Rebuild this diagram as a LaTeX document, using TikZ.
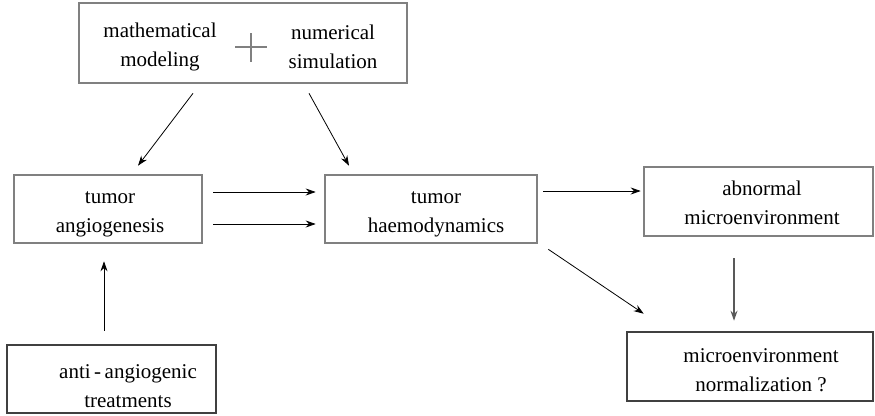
\documentclass[tikz,border=0pt]{standalone}
\usepackage{fontspec}
\setmainfont{Liberation Serif}
\usetikzlibrary{arrows.meta,calc}
\begin{document}
\begin{tikzpicture}[x=1pt,y=1pt,
  lbox/.style={draw=black!50, line width=2.6pt, minimum width=#1, inner sep=0pt},
  dbox/.style={draw=black!75, line width=2.6pt, minimum width=#1, inner sep=0pt},
  txt/.style={align=center, font=\fontsize{21}{29}\selectfont, inner sep=0pt},
  arr/.style={-{Stealth[length=10pt,width=7pt]}, line width=0.8pt, black},
  garr/.style={-{Stealth[length=10pt,width=7pt]}, line width=1.1pt, black!65},
]
\useasboundingbox (0,0) rectangle (875,-415);
% boxes
\node[lbox=328pt, minimum height=80pt] (top) at (243,-43) {};
\node[lbox=188pt, minimum height=68pt] (ang) at (108,-209) {};
\node[lbox=212pt, minimum height=68pt] (haem) at (431,-209) {};
\node[lbox=229pt, minimum height=69pt] (abn) at (758.5,-201.5) {};
\node[dbox=209pt, minimum height=68pt] (anti) at (111.5,-379) {};
\node[dbox=246pt, minimum height=69pt] (norm) at (750,-366.5) {};
% texts
\node[txt] (t1) at (160,-47) {mathematical\\modeling};
\node[txt] (t2) at (333,-47) {numerical\\simulation};
\coordinate (plus) at (251,-47);
\draw[black!50, line width=2pt] ($(plus)+(-16,0)$) -- ($(plus)+(16,0)$)
  ($(plus)+(0,-14.5)$) -- ($(plus)+(0,14.5)$);
\node[txt] (t3) at (110,-214) {tumor\\angiogenesis};
\node[txt] (t4) at (436,-214) {tumor\\haemodynamics};
\node[txt] (t5) at (762,-203) {abnormal\\microenvironment};
\node[txt] (t6) at (128,-386) {anti\,-\,angiogenic\\treatments};
\node[txt] (t7) at (761,-370) {microenvironment\\normalization ?};
% arrows
\draw[arr] ($(top.south)+(-50,-9)$) -- ($(ang.north)+(30,8)$);
\draw[arr] ($(top.south)+(66,-9)$) -- ($(haem.north)+(-82,8)$);
\draw[arr] ($(ang.east)+(10,17)$) -- ($(haem.west)+(-8,17)$);
\draw[arr] ($(ang.east)+(10,-15)$) -- ($(haem.west)+(-8,-15)$);
\draw[arr] ($(haem.east)+(5,18)$) -- ($(abn.west)+(-2,10.5)$);
\draw[arr] ($(haem.south east)+(10,-5)$) -- ($(norm.north west)+(18,17)$);
\draw[garr] ($(abn.south)+(-24.5,-21)$) -- ($(norm.north)+(-16,10)$);
\draw[arr] ($(anti.north)+(-7.5,13)$) -- ($(ang.south)+(-4,-17)$);
\end{tikzpicture}
\end{document}
